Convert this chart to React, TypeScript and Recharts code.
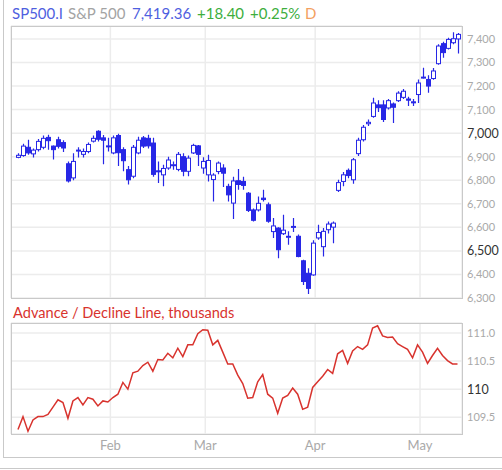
import React from "react";
import { ComposedChart, Bar, Line, XAxis, YAxis, CartesianGrid } from "recharts";

// trading days, Jan 5 .. May 12
const dates = [
  "01-05", "01-06", "01-07", "01-08", "01-09", "01-12", "01-13", "01-14", "01-15", "01-16",
  "01-20", "01-21", "01-22", "01-23", "01-26", "01-27", "01-28", "01-29", "01-30",
  "02-02", "02-03", "02-04", "02-05", "02-06", "02-09", "02-10", "02-11", "02-12", "02-13",
  "02-17", "02-18", "02-19", "02-20", "02-23", "02-24", "02-25", "02-26", "02-27",
  "03-02", "03-03", "03-04", "03-05", "03-06", "03-09", "03-10", "03-11", "03-12", "03-13",
  "03-16", "03-17", "03-18", "03-19", "03-20", "03-23", "03-24", "03-25", "03-26", "03-27",
  "03-30", "03-31",
  "04-01", "04-02", "04-06", "04-07", "04-08", "04-09", "04-10", "04-13", "04-14", "04-15",
  "04-16", "04-17", "04-20", "04-21", "04-22", "04-23", "04-24", "04-27", "04-28", "04-29",
  "04-30",
  "05-01", "05-04", "05-05", "05-06", "05-07", "05-08", "05-11", "05-12",
];

const openP = [
  6897, 6905, 6940, 6912, 6930, 6940, 6982, 6945, 6972, 6960,
  6870, 6810, 6925, 6910, 6922, 6966, 7008, 6980, 6942,
  6916, 6990, 6930, 6845, 6817, 6916, 6980, 6978, 6958, 6840,
  6823, 6852, 6862, 6846, 6900, 6838, 6916, 6946, 6852,
  6823, 6803, 6837, 6852, 6774, 6703, 6798, 6795, 6745, 6674,
  6674, 6724, 6696, 6582, 6597, 6573, 6558, 6600, 6562, 6458,
  6405, 6398,
  6555, 6518, 6590, 6601, 6757, 6795, 6842, 6802, 6913, 6972,
  7040, 7071, 7120, 7120, 7107, 7124, 7138, 7152, 7145, 7133,
  7164,
  7234, 7228, 7232, 7295, 7380, 7360, 7384, 7400,
];
const highP = [
  6915, 6955, 6972, 6935, 6975, 6990, 6993, 6948, 6985, 6970,
  6880, 6915, 6940, 6935, 6960, 6990, 7012, 6992, 6980,
  6990, 6997, 6940, 6860, 6950, 6985, 6988, 6993, 6980, 6880,
  6866, 6900, 6880, 6920, 6915, 6905, 6955, 6950, 6898,
  6908, 6830, 6880, 6868, 6785, 6815, 6848, 6815, 6750, 6680,
  6731, 6760, 6705, 6640, 6600, 6653, 6583, 6640, 6570, 6462,
  6426, 6545,
  6611, 6597, 6625, 6625, 6802, 6835, 6850, 6895, 6980, 7035,
  7058, 7150, 7140, 7140, 7145, 7130, 7178, 7188, 7155, 7145,
  7228,
  7278, 7246, 7277, 7378, 7388, 7405, 7428, 7425,
];
const lowP = [
  6893, 6900, 6908, 6897, 6922, 6932, 6930, 6888, 6935, 6920,
  6790, 6800, 6897, 6897, 6915, 6960, 6965, 6868, 6922,
  6910, 6860, 6838, 6782, 6808, 6910, 6937, 6935, 6815, 6788,
  6775, 6845, 6845, 6838, 6817, 6817, 6912, 6860, 6828,
  6795, 6710, 6825, 6771, 6710, 6635, 6760, 6760, 6665, 6625,
  6667, 6710, 6620, 6555, 6469, 6568, 6526, 6580, 6473, 6355,
  6317, 6395,
  6547, 6476, 6574, 6533, 6750, 6775, 6808, 6785, 6903, 6965,
  7030, 7065, 7090, 7047, 7100, 7043, 7132, 7145, 7115, 7115,
  7128,
  7232, 7172, 7227, 7290, 7320, 7355, 7378, 7338,
];
const closeP = [
  6906, 6945, 6916, 6928, 6965, 6978, 6968, 6930, 6944, 6937,
  6797, 6880, 6928, 6922, 6952, 6978, 6974, 6970, 6946,
  6980, 6917, 6883, 6802, 6940, 6970, 6945, 6946, 6825, 6837,
  6850, 6886, 6866, 6910, 6838, 6894, 6948, 6910, 6880,
  6884, 6822, 6873, 6830, 6738, 6797, 6782, 6778, 6672, 6630,
  6702, 6718, 6626, 6606, 6505, 6588, 6562, 6604, 6476, 6370,
  6341, 6533,
  6578, 6583, 6614, 6618, 6790, 6823, 6820, 6887, 6970, 7025,
  7046, 7128, 7108, 7058, 7138, 7110, 7170, 7178, 7140, 7130,
  7213,
  7238, 7200, 7264, 7370, 7342, 7398, 7401, 7419.36,
];

// advance / decline line, thousands
const adLine = [
  109.28, 109.51, 109.25, 109.45, 109.51, 109.51, 109.55, 109.68, 109.81, 109.76,
  109.48, 109.79, 109.85, 109.72, 109.85, 109.82, 109.70, 109.79, 109.77,
  109.85, 109.91, 110.12, 110.0, 110.29, 110.32, 110.42, 110.48, 110.32, 110.53,
  110.52, 110.64, 110.56, 110.73, 110.58, 110.79, 110.79, 110.99, 111.06,
  111.05, 110.79, 110.87, 110.66, 110.45, 110.45, 110.25, 110.10, 109.84, 109.85,
  110.13, 110.26, 109.91, 109.84, 109.57, 109.84, 109.89, 110.02, 109.91, 109.64,
  109.68, 110.03,
  110.13, 110.23, 110.35, 110.28, 110.63, 110.69, 110.46, 110.68, 110.76, 110.71,
  110.79, 111.09, 111.13, 110.95, 110.92, 110.93, 110.81, 110.76, 110.71, 110.56,
  110.79,
  110.66, 110.46, 110.60, 110.73, 110.60, 110.51, 110.45, 110.45,
];

const priceTicks = [6300, 6400, 6500, 6600, 6700, 6800, 6900, 7000, 7100, 7200, 7300, 7400];
const priceMajor = [6500, 7000];
const adTicks = [109.5, 110, 110.5, 111];
const adMajor = [110];
const monthNames = ["Jan", "Feb", "Mar", "Apr", "May"];

const BLUE = "#2727e6";
const RED = "#d8332e";
const GRID = "#ececec";
const FRAME = "#c9c9c9";

const rows = dates.map((d, i) => ({
  i,
  date: d,
  range: [lowP[i], highP[i]],
  open: openP[i],
  high: highP[i],
  low: lowP[i],
  close: closeP[i],
  ad: adLine[i],
}));

// gridlines sit between the last day of a month and the first of the next
const monthStarts = dates
  .map((d, i) => (i > 0 && d.slice(0, 2) !== dates[i - 1].slice(0, 2) ? i - 0.5 : null))
  .filter((v) => v !== null) as number[];

const monthLabel = (v: number) => monthNames[Number(dates[Math.ceil(v)].slice(0, 2)) - 1];

const xPad = { left: 4.5, right: 2 };

function Candle(props: any) {
  const { x, y, width, height, payload } = props;
  const { open, close, high, low } = payload;
  const h = Math.abs(height);
  const top = height < 0 ? y + height : y;
  const k = h / (high - low);
  const py = (v: number) => top + (high - v) * k;
  const cx = Math.round(x + width / 2) + 0.5;
  const bw = 4;
  const up = close >= open;
  const bTop = py(Math.max(open, close));
  const bBot = py(Math.min(open, close));
  return (
    <g>
      <line x1={cx} x2={cx} y1={top} y2={top + h} stroke={BLUE} strokeWidth={1.2} />
      <rect
        x={cx - bw / 2}
        y={bTop}
        width={bw}
        height={Math.max(bBot - bTop, 1)}
        fill={up ? "#fff" : BLUE}
        stroke={BLUE}
        strokeWidth={1}
      />
    </g>
  );
}

function AxisTick(props: any) {
  const { x, y, payload, major, fmt } = props;
  const isMajor = major.includes(payload.value);
  return (
    <text
      x={x}
      y={y}
      dy="0.355em"
      textAnchor="start"
      fill={isMajor ? "#333" : "#a9a9a9"}
      fontSize={isMajor ? 12.5 : 11}
      fontFamily="Lato, sans-serif"
    >
      {fmt(payload.value)}
    </text>
  );
}

const fmtPrice = (v: number) => v.toLocaleString("en-US");
const fmtAd = (v: number) => (adMajor.includes(v) ? String(v) : v.toFixed(1));

export default function App() {
  return (
    <div
      style={{
        position: "fixed",
        left: 0,
        top: 0,
        width: 502,
        height: 470,
        background: "#fff",
        fontFamily: "Lato, sans-serif",
        overflow: "hidden",
      }}
    >
      <div
        style={{
          position: "absolute",
          left: 3,
          top: -1,
          width: 540,
          height: 459,
          border: `1px solid ${FRAME}`,
          boxSizing: "border-box",
        }}
      />
      <div style={{ position: "absolute", left: 0, top: 468, width: 502, borderTop: `1px solid ${FRAME}` }} />

      <svg width={502} height={330} style={{ position: "absolute", left: 0, top: 0 }}>
        <text y={19} fontSize={15} fontFamily="Lato, sans-serif">
          <tspan x={12} fill="#4f5fe0">SP500.I</tspan>
          <tspan x={68} fill="#a3a3a3">S&amp;P 500</tspan>
          <tspan x={132} fill="#4f5fe0">7,419.36</tspan>
          <tspan x={197} fill="#3dae3d">+18.40</tspan>
          <tspan x={250} fill="#3dae3d">+0.25%</tspan>
          <tspan x={305} fill="#f3a061">D</tspan>
        </text>
        <text x={13} y={318} fontSize={14.6} fontFamily="Lato, sans-serif" fill={RED}>
          Advance / Decline Line, thousands
        </text>
      </svg>

      <div style={{ position: "absolute", left: 0, top: 0 }}>
        <ComposedChart width={502} height={310} data={rows} margin={{ top: 26, right: 0, left: 11, bottom: 12 }}>
          <XAxis dataKey="date" hide padding={xPad} />
          <XAxis
            xAxisId="grid"
            dataKey="i"
            type="number"
            hide
            domain={[-0.5, dates.length - 0.5]}
            ticks={monthStarts}
            padding={xPad}
            allowDataOverflow
          />
          <YAxis
            orientation="right"
            width={40}
            domain={[6300, 7455]}
            ticks={priceTicks}
            axisLine={false}
            tickLine={false}
            tickSize={0}
            tickMargin={5}
            allowDataOverflow
            tick={(p: any) => <AxisTick {...p} major={priceMajor} fmt={fmtPrice} />}
          />
          <CartesianGrid xAxisId="grid" stroke={GRID} strokeWidth={1.5} />
          <Bar dataKey="range" shape={<Candle />} isAnimationActive={false} />
        </ComposedChart>
      </div>

      <div style={{ position: "absolute", left: 0, top: 300 }}>
        <ComposedChart width={502} height={160} data={rows} margin={{ top: 23, right: 0, left: 11, bottom: 6 }}>
          <XAxis
            dataKey="i"
            type="number"
            domain={[-0.5, dates.length - 0.5]}
            ticks={monthStarts}
            tickFormatter={monthLabel}
            padding={xPad}
            height={20}
            axisLine={false}
            tickLine={false}
            tickSize={0}
            tickMargin={7}
            tick={{ fill: "#a9a9a9", fontSize: 13, fontFamily: "Lato, sans-serif" }}
            allowDataOverflow
          />
          <YAxis
            orientation="right"
            width={40}
            domain={[109.2, 111.18]}
            ticks={adTicks}
            axisLine={false}
            tickLine={false}
            tickSize={0}
            tickMargin={5}
            allowDataOverflow
            tick={(p: any) => <AxisTick {...p} major={adMajor} fmt={fmtAd} />}
          />
          <CartesianGrid stroke={GRID} strokeWidth={1.5} />
          <Line
            dataKey="ad"
            type="linear"
            stroke={RED}
            strokeWidth={1.5}
            dot={false}
            isAnimationActive={false}
          />
        </ComposedChart>
      </div>

      <div
        style={{
          position: "absolute",
          left: 11,
          top: 26,
          width: 452,
          height: 273,
          border: `1px solid ${FRAME}`,
          boxSizing: "border-box",
          pointerEvents: "none",
        }}
      />
      <div
        style={{
          position: "absolute",
          left: 11,
          top: 323,
          width: 452,
          height: 112,
          border: `1px solid ${FRAME}`,
          boxSizing: "border-box",
          pointerEvents: "none",
        }}
      />
    </div>
  );
}
